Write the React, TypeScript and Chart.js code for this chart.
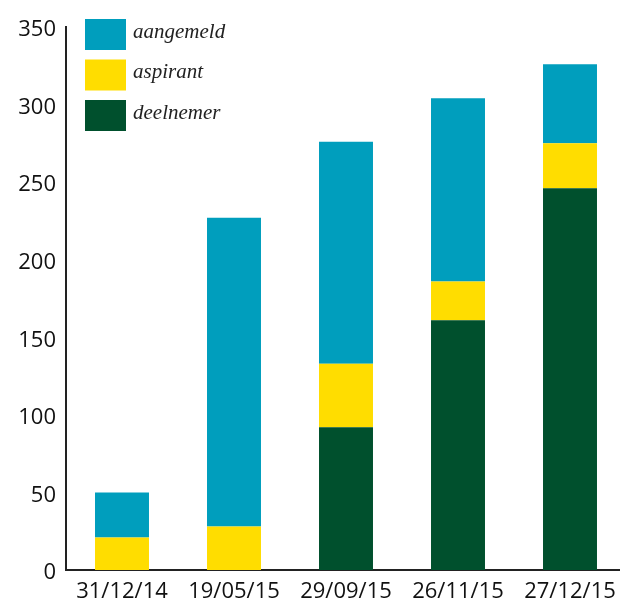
import React, { useEffect, useRef } from "react";
import { Chart, registerables } from "chart.js";

Chart.register(...registerables);

const categories = ["31/12/14", "19/05/15", "29/09/15", "26/11/15", "27/12/15"];
const deelnemer = [0, 0, 92, 161, 246];
const aspirant = [21, 28, 41, 25, 29];
const aangemeld = [29, 199, 143, 118, 51];
const yTicks = [0, 50, 100, 150, 200, 250, 300, 350];

const COLORS = {
  deelnemer: "#00502D",
  aspirant: "#FFDD00",
  aangemeld: "#009EBD",
};

const legendPlugin = {
  id: "customLegend",
  afterDraw(chart: any) {
    const ctx = chart.ctx;
    ctx.save();
    const order = [2, 1, 0];
    const tops = [19, 59.5, 100];
    order.forEach((di, i) => {
      const ds = chart.data.datasets[di];
      const y = tops[i];
      ctx.fillStyle = ds.backgroundColor;
      ctx.fillRect(85, y, 41, 31);
      ctx.fillStyle = "#222";
      ctx.font = 'italic 21px "Liberation Serif"';
      ctx.textBaseline = "alphabetic";
      ctx.textAlign = "left";
      ctx.fillText(ds.label, 133, y + 18.5);
    });
    ctx.restore();
  },
};

export default function App() {
  const ref = useRef<HTMLCanvasElement | null>(null);
  useEffect(() => {
    if (!ref.current) return;
    const chart = new Chart(ref.current, {
      type: "bar",
      data: {
        labels: categories,
        datasets: [
          { label: "deelnemer", data: deelnemer, backgroundColor: COLORS.deelnemer },
          { label: "aspirant", data: aspirant, backgroundColor: COLORS.aspirant },
          { label: "aangemeld", data: aangemeld, backgroundColor: COLORS.aangemeld },
        ],
      },
      options: {
        animation: false,
        responsive: false,
        maintainAspectRatio: false,
        layout: { padding: { left: 0, top: 27, right: 6, bottom: 0 } },
        datasets: {
          bar: { categoryPercentage: 1, barPercentage: 0.482, borderWidth: 0 },
        },
        plugins: {
          legend: { display: false },
          tooltip: { enabled: false },
        },
        scales: {
          x: {
            stacked: true,
            grid: { display: false, drawTicks: false },
            border: { display: true, color: "#222", width: 2 },
            ticks: {
              color: "#111",
              font: { family: '"Open Sans"', size: 22 },
              padding: 9,
              maxRotation: 0,
              autoSkip: false,
            },
            afterFit: (s: any) => {
              s.height = 31;
            },
          },
          y: {
            stacked: true,
            min: 0,
            max: 350,
            afterBuildTicks: (s: any) => {
              s.ticks = yTicks.map((v) => ({ value: v }));
            },
            grid: { display: false, drawTicks: false },
            border: { display: true, color: "#222", width: 2 },
            ticks: {
              color: "#111",
              font: { family: '"Open Sans"', size: 22 },
              padding: 10,
              labelOffset: 3,
            },
            afterFit: (s: any) => {
              s.width = 66;
            },
          },
        },
      },
      plugins: [legendPlugin],
    });
    return () => chart.destroy();
  }, []);

  return (
    <div
      style={{
        position: "absolute",
        left: 0,
        top: 0,
        width: 620,
        height: 601,
        overflow: "hidden",
        background: "#fff",
      }}
    >
      <canvas ref={ref} width={632} height={601} style={{ display: "block", width: 632, height: 601 }} />
    </div>
  );
}
